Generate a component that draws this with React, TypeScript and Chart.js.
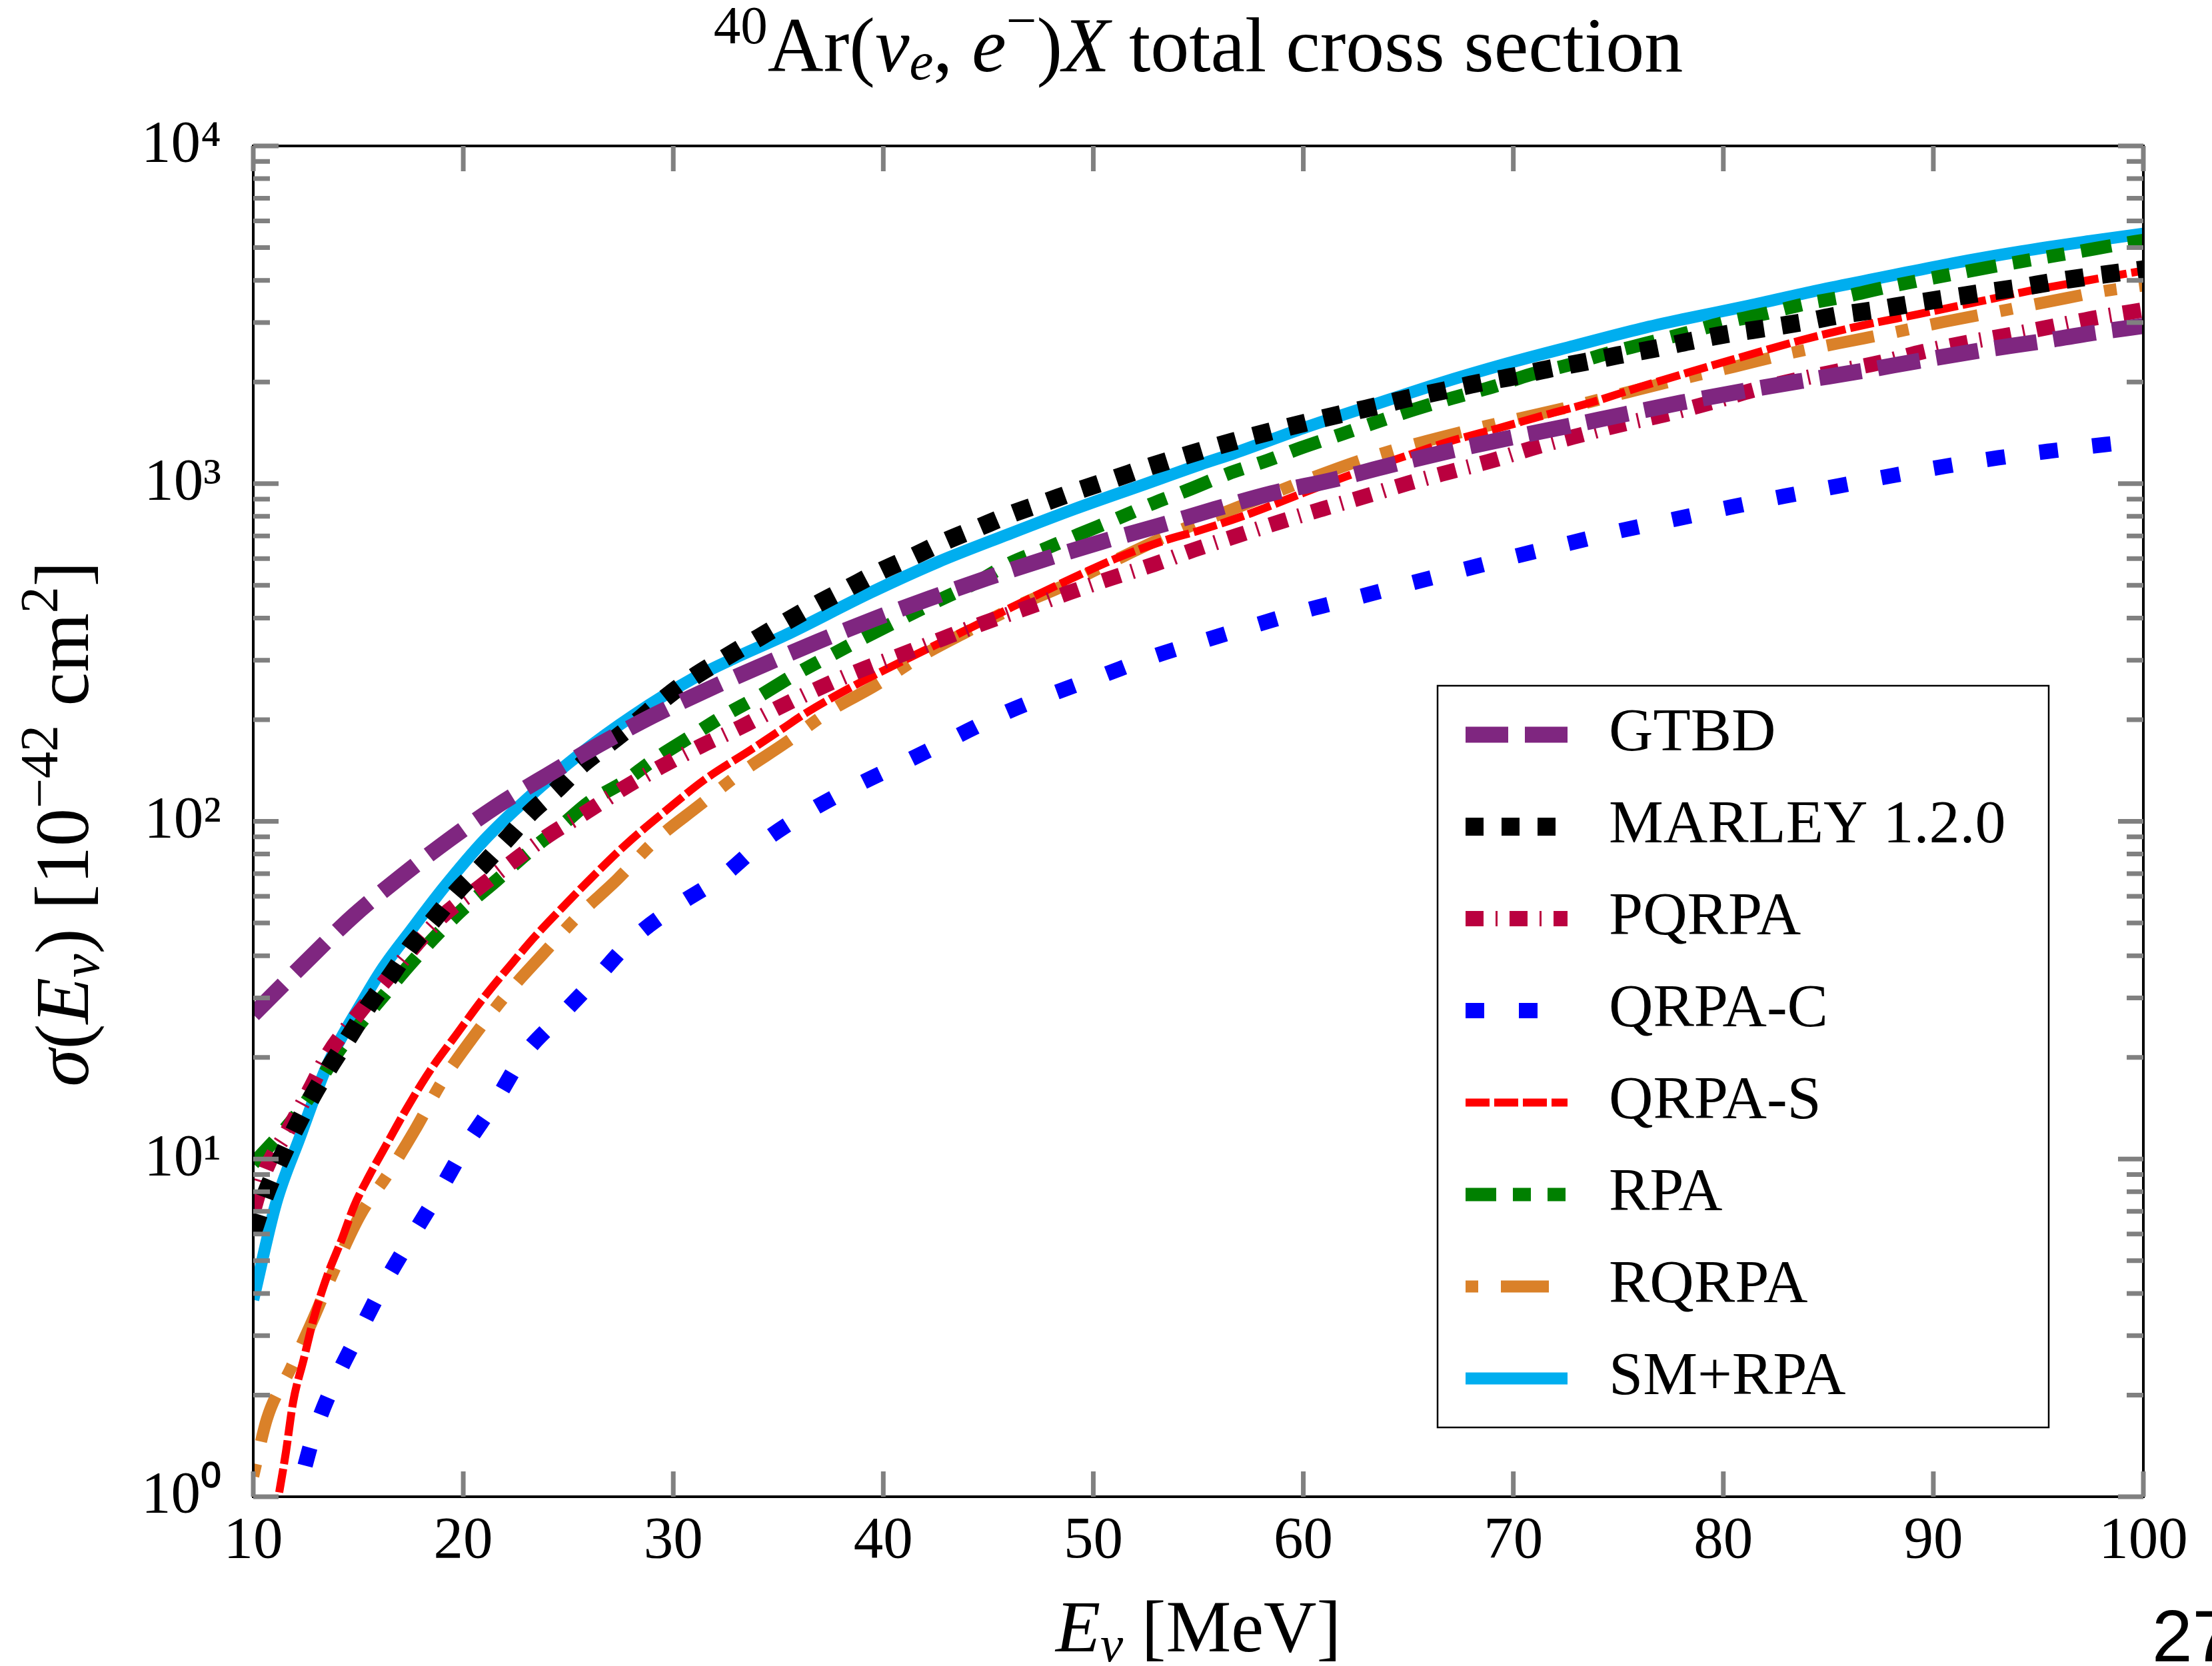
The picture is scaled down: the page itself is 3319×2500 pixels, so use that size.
import React, { useEffect, useRef } from 'react';
import { Chart, registerables } from 'chart.js';

Chart.register(...registerables);

// ---------------- data (E in MeV, sigma in 1e-42 cm^2) ----------------
const GTBD_E = [10, 12.8, 14.8, 17.0, 19.3, 21.6, 24.0, 26.5, 29.0, 31.6, 34.2, 36.9, 39.5, 42.2, 44.9, 47.6, 50.3, 53.1, 55.8, 58.5, 61.4, 64.1, 67.0, 69.7, 72.5, 75.3, 78.0, 80.9, 83.7, 86.6, 89.3, 92.2, 95.0, 97.8, 100];
const GTBD_S = [26.8, 40, 52.7, 68.4, 88, 111, 137, 169, 205, 245, 289, 341, 396, 457, 524, 595, 670, 750, 841, 937, 1026, 1132, 1251, 1361, 1476, 1605, 1738, 1879, 2013, 2155, 2309, 2478, 2630, 2806, 2930];

const MARLEY_E = [10, 10.6, 11.3, 12.0, 12.8, 13.7, 14.6, 15.5, 16.5, 17.5, 18.6, 19.7, 20.9, 22.1, 23.2, 24.5, 25.7, 27.0, 28.3, 29.5, 30.9, 32.3, 33.8, 35.3, 36.8, 38.3, 39.8, 41.4, 42.9, 44.5, 46.1, 47.7, 49.4, 51.0, 52.6, 54.2, 56.6, 58.3, 60.0, 61.7, 63.3, 65.0, 66.7, 68.3, 70.0, 71.7, 73.4, 75.0, 76.8, 78.4, 80.3, 82.1, 83.9, 85.5, 87.2, 88.9, 90.6, 92.3, 94.0, 95.7, 97.4, 99.1, 100];
const MARLEY_S = [6.1, 7.9, 9.96, 12.3, 15.3, 19.0, 23.2, 28.5, 34.6, 42.6, 51.2, 62, 73.8, 89, 106, 125, 148, 171, 198, 229, 266, 301, 342, 388, 438, 490, 548, 608, 673, 740, 813, 881, 960, 1035, 1119, 1202, 1330, 1420, 1510, 1602, 1686, 1790, 1886, 1983, 2076, 2188, 2291, 2400, 2515, 2640, 2782, 2893, 3016, 3152, 3268, 3404, 3538, 3673, 3800, 3958, 4104, 4237, 4310];

const PQRPA_E = [10, 10.6, 11.6, 12.7, 13.6, 14.9, 17.0, 19.0, 20.7, 22.3, 24.0, 25.8, 27.6, 29.4, 31.3, 33.2, 35.0, 37.0, 38.9, 40.9, 42.9, 44.8, 46.9, 48.9, 50.9, 52.9, 54.8, 56.9, 58.9, 60.9, 63.0, 65.0, 67.0, 69.0, 71.1, 73.2, 75.2, 77.3, 79.4, 81.4, 83.5, 85.4, 87.5, 89.5, 91.6, 93.7, 95.8, 97.8, 100];
const PQRPA_S = [7.0, 9.3, 12.0, 16.1, 20.6, 26.4, 38, 52.3, 63.3, 75.6, 90.4, 106, 125, 145, 167, 190, 217, 249, 280, 312, 349, 387, 430, 477, 526, 577, 637, 703, 771, 841, 919, 1003, 1085, 1171, 1284, 1393, 1500, 1606, 1738, 1890, 2030, 2150, 2286, 2459, 2618, 2763, 2931, 3103, 3270];

const QRPAC_E = [11.8, 12.2, 12.9, 13.85, 15.0, 16.15, 17.45, 18.8, 20.1, 21.5, 22.85, 24.6, 26.3, 28.1, 30.1, 32.3, 34.3, 36.4, 38.7, 41.0, 43.3, 45.6, 48.0, 50.4, 52.8, 55.2, 57.7, 60.2, 62.7, 65.2, 67.7, 70.2, 72.7, 75.2, 77.7, 80.3, 82.9, 85.5, 88.0, 90.5, 93.1, 95.6, 98.2, 100];
const QRPAC_S = [0.87, 1.07, 1.54, 2.17, 3.03, 4.18, 5.75, 7.9, 10.9, 14.7, 20.2, 26.4, 34.1, 45, 55.9, 68.4, 87.3, 106.5, 127.5, 149.5, 176, 207, 238, 270, 307, 342, 381, 423, 463, 509, 558, 612, 667, 728, 785, 851, 918, 985, 1055, 1124, 1193, 1250, 1306, 1345];

const QRPAS_E = [11.0, 11.2, 11.55, 11.9, 12.4, 12.9, 13.55, 14.2, 14.8, 15.5, 16.4, 17.3, 18.4, 19.7, 21.0, 22.4, 23.4, 24.65, 26.2, 27.8, 29.6, 31.5, 33.7, 35.2, 36.3, 38.6, 41.0, 43.5, 46.1, 48.6, 51.1, 53.5, 55.1, 57.5, 60.0, 62.2, 64.7, 66.9, 69.3, 71.6, 73.7, 76.0, 78.4, 81.2, 83.8, 86.5, 89.3, 92.0, 94.7, 97.4, 100];
const QRPAS_S = [0.85, 1.0, 1.35, 1.91, 2.55, 3.41, 4.56, 5.75, 7.25, 8.87, 11.2, 14.1, 18.2, 23.5, 30.2, 38.5, 45.5, 55, 69, 86, 107, 133, 163, 188, 209, 252, 300, 357, 430, 511, 601, 682, 728, 817, 939, 1059, 1197, 1330, 1460, 1602, 1738, 1930, 2140, 2404, 2668, 2931, 3177, 3443, 3736, 4003, 4270];

const RPA_E = [10, 11.8, 12.9, 14.0, 15.1, 16.2, 17.3, 18.8, 20.1, 21.6, 23.1, 24.6, 26.0, 27.65, 29.0, 30.75, 32.5, 34.0, 35.7, 37.4, 38.9, 40.8, 42.6, 44.3, 46.0, 47.8, 49.3, 51.1, 52.9, 54.5, 56.4, 58.3, 59.9, 61.8, 63.7, 65.3, 67.3, 69.2, 70.8, 72.6, 74.5, 76.2, 78.2, 80.2, 81.9, 83.8, 85.8, 87.5, 89.4, 91.3, 93.0, 95.0, 97.0, 98.6, 100];
const RPA_S = [9.7, 12.9, 16, 20.6, 25.2, 30.4, 36.7, 46.5, 55.8, 67, 81, 96.2, 114, 131, 151, 177, 207, 233, 270, 308, 345, 396, 450, 505, 580, 645, 707, 786, 877, 957, 1069, 1172, 1277, 1400, 1538, 1660, 1807, 1950, 2104, 2243, 2432, 2590, 2790, 3015, 3177, 3395, 3583, 3785, 4003, 4217, 4414, 4642, 4876, 5080, 5250];

const RQRPA_E = [10, 10.65, 11.8, 12.8, 13.85, 15.1, 16.4, 17.7, 19.0, 20.5, 22.0, 23.8, 25.5, 27.3, 29.2, 31.2, 33.2, 35.3, 37.45, 39.6, 41.9, 44.0, 46.3, 48.6, 50.9, 53.3, 57.2, 63.0, 68.0, 72.9, 75.4, 78.0, 80.5, 83.0, 85.5, 88.0, 90.5, 93.0, 95.6, 98.1, 100];
const RQRPA_S = [1.15, 1.7, 2.41, 3.3, 4.69, 6.84, 9.0, 12.2, 17.0, 23.1, 30.4, 40.5, 52.7, 67, 88.4, 111, 139, 170, 212, 252, 311, 365, 432, 499, 587, 691, 867, 1188, 1445, 1700, 1862, 2042, 2218, 2420, 2606, 2795, 3013, 3227, 3470, 3716, 3860];

const SMRPA_E = [10, 11.1, 12.2, 13.5, 15.3, 16.2, 17.5, 19.1, 21.0, 23.0, 25.6, 28.1, 31.0, 32.9, 35.3, 39.4, 42.6, 45.9, 49.1, 52.3, 55.1, 56.7, 60.0, 63.2, 66.4, 69.7, 72.9, 76.1, 78.0, 81.2, 84.5, 87.7, 90.9, 94.2, 97.4, 100];
const SMRPA_S = [3.83, 7.45, 11.5, 18.8, 30, 37, 47.5, 64, 88, 116, 159, 206, 266, 304, 355, 476, 586, 706, 841, 989, 1140, 1230, 1460, 1700, 1974, 2268, 2560, 2880, 3060, 3363, 3736, 4096, 4490, 4875, 5222, 5500];

const SERIES_LABELS = ['GTBD', 'MARLEY 1.2.0', 'PQRPA', 'QRPA-C', 'QRPA-S', 'RPA', 'RQRPA', 'SM+RPA'];
const SERIES_E = [GTBD_E, MARLEY_E, PQRPA_E, QRPAC_E, QRPAS_E, RPA_E, RQRPA_E, SMRPA_E];
const SERIES_S = [GTBD_S, MARLEY_S, PQRPA_S, QRPAC_S, QRPAS_S, RPA_S, RQRPA_S, SMRPA_S];
const SERIES_COLORS = ['#7F2680', '#000000', '#BA003F', '#0000FF', '#FF0000', '#008000', '#DA8129', '#00AEEF'];
const SERIES_WIDTHS = [24, 27, 23, 23, 12, 20, 18, 18];
const SERIES_DASHES = [[64, 25], [27, 27], [27, 18, 3, 18], [28, 52], [36, 7], [46, 25, 27, 25, 27, 25], [19, 34, 72, 34], []];

const X_TICKS = [10, 20, 30, 40, 50, 60, 70, 80, 90, 100];
const Y_MAJOR = [1, 10, 100, 1000, 10000];
const Y_MINOR_MULT = [2, 3, 4, 5, 6, 7, 8, 9];
const SUP = ['⁰', '¹', '²', '³', '⁴'];

// ---------------- layout ----------------
const W = 3319;
const H = 2500;
const FAMILY = "'Liberation Serif', 'Times New Roman', serif";

type Seg = { t: string; it?: boolean; sc?: number; dy?: number };

function segFont(s: Seg, size: number) {
  return `${s.it ? 'italic ' : ''}${Math.round(size * (s.sc || 1))}px ${FAMILY}`;
}

function drawRich(ctx: CanvasRenderingContext2D, segs: Seg[], x: number, y: number, size: number, align: 'center' | 'left') {
  const widths = segs.map((s) => {
    ctx.font = segFont(s, size);
    return ctx.measureText(s.t).width;
  });
  const total = widths.reduce((a, b) => a + b, 0);
  let cx = align === 'center' ? x - total / 2 : x;
  ctx.textAlign = 'left';
  ctx.textBaseline = 'alphabetic';
  segs.forEach((s, i) => {
    ctx.font = segFont(s, size);
    ctx.fillText(s.t, cx, y + (s.dy || 0) * size);
    cx += widths[i];
  });
}

const TITLE_SEGS: Seg[] = [
  { t: '40', sc: 0.7, dy: -0.36 },
  { t: 'Ar(' },
  { t: 'ν', it: true },
  { t: 'e', it: true, sc: 0.7, dy: 0.1 },
  { t: ', ' },
  { t: 'e', it: true },
  { t: '−', sc: 0.7, dy: -0.42 },
  { t: ')' },
  { t: 'X', it: true },
  { t: ' total cross section' },
];
const XLABEL_SEGS: Seg[] = [
  { t: 'E', it: true },
  { t: 'ν', it: true, sc: 0.7, dy: 0.14 },
  { t: ' [MeV]' },
];
const YLABEL_SEGS: Seg[] = [
  { t: 'σ', it: true },
  { t: '(' },
  { t: 'E', it: true },
  { t: 'ν', it: true, sc: 0.7, dy: 0.14 },
  { t: ') [10' },
  { t: '−42', sc: 0.7, dy: -0.4 },
  { t: ' cm' },
  { t: '2', sc: 0.7, dy: -0.4 },
  { t: ']' },
];

const decorPlugin = {
  id: 'decor',
  afterDatasetsDraw(chart: any) {
    const ctx: CanvasRenderingContext2D = chart.ctx;
    const a = chart.chartArea;
    const xs = chart.scales.x;
    const ys = chart.scales.y;
    ctx.save();
    ctx.setLineDash([]);
    // frame
    ctx.strokeStyle = '#000';
    ctx.lineWidth = 4;
    ctx.strokeRect(a.left, a.top, a.right - a.left, a.bottom - a.top);
    // inward ticks on all four sides
    ctx.strokeStyle = '#808080';
    ctx.lineWidth = 7;
    ctx.lineCap = 'butt';
    ctx.beginPath();
    xs.ticks.forEach((t: any) => {
      const p = xs.getPixelForValue(t.value);
      ctx.moveTo(p, a.bottom);
      ctx.lineTo(p, a.bottom - 38);
      ctx.moveTo(p, a.top);
      ctx.lineTo(p, a.top + 38);
    });
    ys.ticks.forEach((t: any) => {
      const p = ys.getPixelForValue(t.value);
      const len = Y_MAJOR.includes(t.value) ? 38 : 25;
      ctx.moveTo(a.left, p);
      ctx.lineTo(a.left + len, p);
      ctx.moveTo(a.right, p);
      ctx.lineTo(a.right - len, p);
    });
    ctx.stroke();

    // legend
    const bx = 2157, by = 1029, bw = 917, bh = 1113;
    ctx.fillStyle = '#fff';
    ctx.fillRect(bx, by, bw, bh);
    ctx.strokeStyle = '#000';
    ctx.lineWidth = 2.5;
    ctx.strokeRect(bx, by, bw, bh);
    chart.data.datasets.forEach((ds: any, i: number) => {
      const y = 1102.5 + i * 138;
      ctx.save();
      ctx.strokeStyle = ds.borderColor;
      ctx.lineWidth = ds.borderWidth;
      ctx.setLineDash(ds.borderDash || []);
      ctx.lineCap = 'butt';
      ctx.beginPath();
      ctx.moveTo(2199, y);
      ctx.lineTo(2352, y);
      ctx.stroke();
      ctx.restore();
      ctx.fillStyle = '#000';
      ctx.font = `92px ${FAMILY}`;
      ctx.textAlign = 'left';
      ctx.textBaseline = 'alphabetic';
      ctx.fillText(ds.label, 2414, y + 23.5);
    });

    // titles
    ctx.fillStyle = '#000';
    const cx = (a.left + a.right) / 2;
    const cy = (a.top + a.bottom) / 2;
    drawRich(ctx, TITLE_SEGS, cx, 107, 116, 'center');
    drawRich(ctx, XLABEL_SEGS, cx, 2478, 110, 'center');
    ctx.save();
    ctx.translate(132, cy + 4);
    ctx.rotate(-Math.PI / 2);
    drawRich(ctx, YLABEL_SEGS, 0, 0, 114, 'center');
    ctx.restore();

    // page number (cut by page edge)
    ctx.font = "109px 'Liberation Sans', Arial, sans-serif";
    ctx.textAlign = 'left';
    ctx.textBaseline = 'alphabetic';
    ctx.fillText('27', 3229, 2493);
    ctx.restore();
  },
};

export default function App() {
  const ref = useRef<HTMLCanvasElement | null>(null);

  useEffect(() => {
    const canvas = ref.current;
    if (!canvas) return;
    const datasets = SERIES_LABELS.map((label, i) => ({
      label,
      data: SERIES_E[i].map((e, j) => ({ x: e, y: SERIES_S[i][j] })),
      borderColor: SERIES_COLORS[i],
      backgroundColor: SERIES_COLORS[i],
      borderWidth: SERIES_WIDTHS[i],
      borderDash: SERIES_DASHES[i],
      borderCapStyle: 'butt' as const,
      pointRadius: 0,
      pointHoverRadius: 0,
      fill: false,
      cubicInterpolationMode: 'monotone' as const,
      clip: 0,
    }));

    const chart = new Chart(canvas, {
      type: 'line',
      data: { datasets },
      options: {
        animation: false,
        responsive: false,
        devicePixelRatio: 1,
        events: [],
        layout: { padding: { top: 219, right: 103, bottom: 0, left: 0 } },
        plugins: {
          legend: { display: false },
          title: { display: false },
          tooltip: { enabled: false },
        },
        scales: {
          x: {
            type: 'linear',
            min: 10,
            max: 100,
            grid: { display: false },
            border: { display: false },
            afterBuildTicks: (scale: any) => {
              scale.ticks = X_TICKS.map((v) => ({ value: v }));
            },
            ticks: {
              autoSkip: false,
              maxRotation: 0,
              padding: 6,
              color: '#000',
              font: { family: FAMILY, size: 89 },
            },
            afterFit: (scale: any) => {
              scale.height = 254;
            },
          },
          y: {
            type: 'logarithmic',
            min: 1,
            max: 10000,
            grid: { display: false },
            border: { display: false },
            afterBuildTicks: (scale: any) => {
              const vals: number[] = [];
              for (let e = 0; e < 4; e++) {
                vals.push(Math.pow(10, e));
                Y_MINOR_MULT.forEach((m) => vals.push(m * Math.pow(10, e)));
              }
              vals.push(10000);
              scale.ticks = vals.map((v) => ({ value: v, major: Y_MAJOR.includes(v) }));
            },
            ticks: {
              autoSkip: false,
              padding: 40,
              color: '#000',
              font: { family: FAMILY, size: 89 },
              callback: (value: any) => {
                const v = Number(value);
                const e = Math.round(Math.log10(v));
                if (Math.abs(v - Math.pow(10, e)) < 1e-6 * v) return '10' + SUP[e];
                return '';
              },
            },
            afterFit: (scale: any) => {
              scale.width = 380;
            },
          },
        },
      },
      plugins: [decorPlugin],
    });
    return () => chart.destroy();
  }, []);

  return (
    <div style={{ position: 'fixed', left: 0, top: 0, width: W, height: H, overflow: 'hidden', background: '#fff' }}>
      <canvas ref={ref} width={W} height={H} style={{ display: 'block', width: W, height: H }} />
    </div>
  );
}
